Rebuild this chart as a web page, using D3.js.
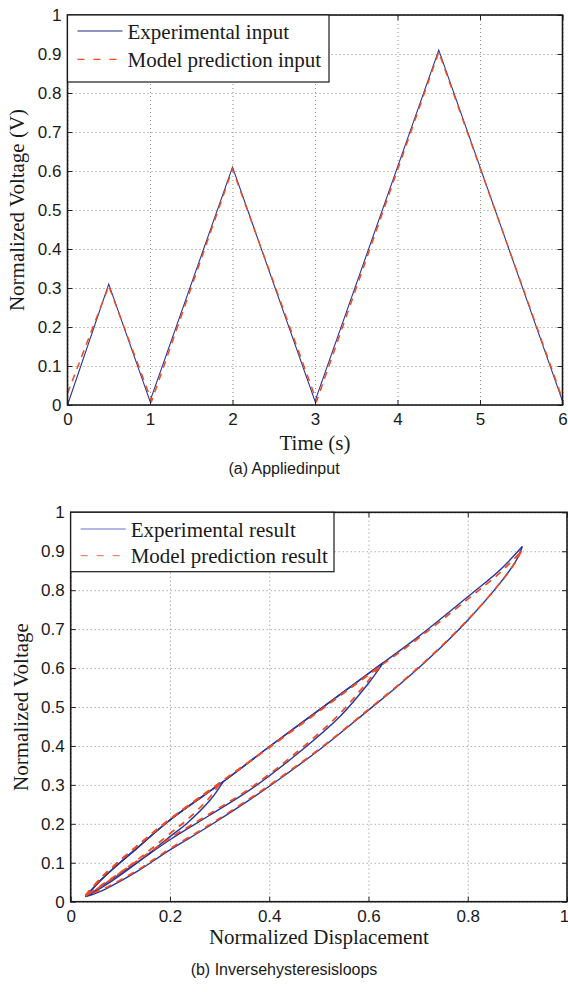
<!DOCTYPE html>
<html lang="en">
  <head>
    <meta charset="utf-8">
    <title>Applied input and inverse hysteresis loops</title>
    <script type="text/javascript" src="https://cdn.jsdelivr.net/npm/d3@7/dist/d3.min.js"></script>
    <style>
      body { margin: 0; background: #fff; }
      svg { display: block; }
      .tick text { font-family: "Liberation Sans", Arial, sans-serif; font-size: 17px; fill: #1a1a1a; }
      .grid line { stroke: #8c8c8c; stroke-width: 1; stroke-dasharray: 1,3; }
      .grid path { display: none; }
      .frame-ticks line { stroke: #222; stroke-width: 1; }
      .frame-ticks path { display: none; }
      .axis-label { font-family: "Liberation Serif", "Times New Roman", serif; font-size: 21px; fill: #1a1a1a; }
      .legend text { font-family: "Liberation Serif", "Times New Roman", serif; font-size: 21px; fill: #1a1a1a; }
      .caption { font-family: "Liberation Sans", Arial, sans-serif; font-size: 16px; fill: #1a1a1a; }
    </style>
  </head>
  <body>
    <script type="text/javascript">

    var w = 568;
    var h = 992;
    var blue = "#27359e";
    var red = "#f24b1f";

    // (a) applied input: triangular voltage, time in s
    var timeTicks = [0, 1, 2, 3, 4, 5, 6];
    var voltTicks = [0, 0.1, 0.2, 0.3, 0.4, 0.5, 0.6, 0.7, 0.8, 0.9, 1];
    var voltTickLabels = ["0", "0.1", "0.2", "0.3", "0.4", "0.5", "0.6", "0.7", "0.8", "0.9", "1"];
    var inputTime = [0, 0.5, 1, 2, 3, 4.5, 6];
    var inputExp = [0, 0.31, 0.01, 0.61, 0.01, 0.91, 0.01];
    var inputModelTime = [0, 0.5, 1.02, 2, 3.02, 4.5, 6];
    var inputModel = [0.03, 0.305, 0.01, 0.605, 0.01, 0.905, 0.015];

    // (b) inverse hysteresis loops: [displacement, voltage]
    var dispTicks = [0, 0.2, 0.4, 0.6, 0.8, 1];
    var dispTickLabels = ["0", "0.2", "0.4", "0.6", "0.8", "1"];
    var expRise = [[0.03, 0.013], [0.066, 0.062], [0.133, 0.137], [0.2, 0.21], [0.307, 0.308], [0.4, 0.398],
                   [0.5, 0.492], [0.6, 0.586], [0.7, 0.68], [0.8, 0.783], [0.865, 0.852], [0.91, 0.912]];
    var expPeaks = [[0.307, 0.308], [0.63, 0.614], [0.91, 0.912]];
    var expFall1 = [[0.307, 0.308], [0.281, 0.261], [0.234, 0.201], [0.2, 0.167], [0.133, 0.099],
                    [0.066, 0.039], [0.03, 0.013]];
    var expFall2 = [[0.63, 0.614], [0.6, 0.561], [0.542, 0.475], [0.45, 0.373], [0.361, 0.287], [0.28, 0.222],
                    [0.2, 0.159], [0.133, 0.1], [0.066, 0.043], [0.03, 0.013]];
    var expFall3 = [[0.91, 0.912], [0.898, 0.877], [0.865, 0.818], [0.8, 0.723], [0.73, 0.634], [0.664, 0.559],
                    [0.6, 0.492], [0.509, 0.398], [0.418, 0.3125], [0.361, 0.262], [0.28, 0.195], [0.2, 0.133],
                    [0.133, 0.077], [0.066, 0.03], [0.03, 0.013]];
    var modelRise = [[0.03, 0.016], [0.066, 0.067], [0.133, 0.142], [0.2, 0.212], [0.3, 0.305], [0.4, 0.396],
                     [0.5, 0.489], [0.6, 0.583], [0.7, 0.676], [0.8, 0.777], [0.865, 0.845], [0.908, 0.9]];
    var modelPeaks = [[0.3, 0.302], [0.622, 0.603], [0.908, 0.9]];
    var modelFall1 = [[0.3, 0.302], [0.278, 0.265], [0.234, 0.21], [0.2, 0.175], [0.133, 0.106],
                      [0.066, 0.044], [0.03, 0.015]];
    var modelFall2 = [[0.622, 0.603], [0.598, 0.565], [0.54, 0.48], [0.45, 0.378], [0.361, 0.291], [0.28, 0.226],
                      [0.2, 0.163], [0.133, 0.104], [0.066, 0.046], [0.03, 0.015]];
    var modelFall3 = [[0.908, 0.9], [0.895, 0.87], [0.863, 0.815], [0.8, 0.724], [0.73, 0.636], [0.664, 0.561],
                      [0.6, 0.494], [0.509, 0.4], [0.418, 0.315], [0.361, 0.265], [0.28, 0.198], [0.2, 0.136],
                      [0.133, 0.08], [0.066, 0.033], [0.03, 0.015]];

    var svg = d3.select("body")
                .append("svg")
                .attr("width", w)
                .attr("height", h);

    // draws grid, inward ticks on all four sides and tick labels for one panel
    function panel(box, xScale, yScale, xTicks, xLabels, yTicks, yLabels) {
      var g = svg.append("g");
      var pw = box.r - box.l, ph = box.b - box.t;

      g.append("g").attr("class", "grid")
       .attr("transform", "translate(0," + box.b + ")")
       .call(d3.axisBottom(xScale).tickValues(xTicks).tickSize(-ph).tickFormat(""));
      g.append("g").attr("class", "grid")
       .attr("transform", "translate(" + box.l + ",0)")
       .call(d3.axisLeft(yScale).tickValues(yTicks).tickSize(-pw).tickFormat(""));

      var xAxis = g.append("g").attr("class", "frame-ticks")
       .attr("transform", "translate(0," + box.b + ")")
       .call(d3.axisBottom(xScale).tickValues(xTicks).tickSizeInner(-5).tickSizeOuter(0).tickPadding(8)
               .tickFormat(function(d, i) { return xLabels[i]; }));
      // last label sits on the window edge, nudge it in a little
      xAxis.selectAll(".tick text").filter(function(d, i) { return i === xTicks.length - 1; })
           .attr("dx", box.r > 565 ? -3 : 0);
      g.append("g").attr("class", "frame-ticks")
       .attr("transform", "translate(0," + box.t + ")")
       .call(d3.axisTop(xScale).tickValues(xTicks).tickSizeInner(-5).tickSizeOuter(0).tickFormat(""));
      g.append("g").attr("class", "frame-ticks")
       .attr("transform", "translate(" + box.l + ",0)")
       .call(d3.axisLeft(yScale).tickValues(yTicks).tickSizeInner(-5).tickSizeOuter(0).tickPadding(6)
               .tickFormat(function(d, i) { return yLabels[i]; }));
      g.append("g").attr("class", "frame-ticks")
       .attr("transform", "translate(" + box.r + ",0)")
       .call(d3.axisRight(yScale).tickValues(yTicks).tickSizeInner(-5).tickSizeOuter(0).tickFormat(""));
      return g;
    }

    function frame(box) {
      svg.append("rect")
         .attr("x", box.l).attr("y", box.t)
         .attr("width", box.r - box.l).attr("height", box.b - box.t)
         .attr("fill", "none").attr("stroke", "#1a1a1a").attr("stroke-width", 1.6);
    }

    function legend(box, x, y, labels) {
      var lg = svg.append("g").attr("class", "legend");
      lg.append("rect")
        .attr("x", x).attr("y", y).attr("width", box.w).attr("height", box.h)
        .attr("fill", "#fff").attr("stroke", "#1a1a1a").attr("stroke-width", 1.2);
      labels.forEach(function(lab, i) {
        var ly = y + box.rows[i];
        lg.append("line")
          .attr("x1", x + 10).attr("x2", x + 55).attr("y1", ly).attr("y2", ly)
          .attr("stroke", i === 0 ? box.c1 : box.c2)
          .attr("stroke-width", i === 0 ? 1 : 1.3)
          .attr("stroke-dasharray", i === 0 ? null : "7,9");
        lg.append("text").attr("x", x + 60).attr("y", ly + 7.5).text(lab);
      });
    }

    // ---------- (a) Applied input ----------
    var boxA = {l: 67.5, r: 562.5, t: 15, b: 405};
    var xA = d3.scaleLinear().domain([0, 6]).range([boxA.l, boxA.r]);
    var yA = d3.scaleLinear().domain([0, 1]).range([boxA.b, boxA.t]);
    panel(boxA, xA, yA, timeTicks, timeTicks.map(String), voltTicks, voltTickLabels);

    var lineA = d3.line()
                  .x(function(d) { return xA(d[0]); })
                  .y(function(d) { return yA(d[1]); });

    svg.append("path")
       .attr("d", lineA(inputTime.map(function(t, i) { return [t, inputExp[i]]; })))
       .attr("fill", "none").attr("stroke", blue).attr("stroke-width", 1.1);
    svg.append("path")
       .attr("d", lineA(inputModelTime.map(function(t, i) { return [t, inputModel[i]]; })))
       .attr("fill", "none").attr("stroke", red).attr("stroke-width", 1.5)
       .attr("stroke-dasharray", "7,6");
    frame(boxA);

    legend({w: 261.5, h: 67, rows: [16, 44.3], c1: "#1f2a86", c2: red}, boxA.l, boxA.t,
           ["Experimental input", "Model prediction input"]);

    svg.append("text").attr("class", "axis-label")
       .attr("x", (boxA.l + boxA.r) / 2).attr("y", 450)
       .attr("text-anchor", "middle").text("Time (s)");
    svg.append("text").attr("class", "axis-label")
       .attr("transform", "translate(24," + ((boxA.t + boxA.b) / 2) + ") rotate(-90)")
       .attr("text-anchor", "middle").text("Normalized Voltage (V)");
    svg.append("text").attr("class", "caption")
       .attr("x", 284).attr("y", 474)
       .attr("text-anchor", "middle").text("(a) Appliedinput");

    // ---------- (b) Inverse hysteresis loops ----------
    var boxB = {l: 70.7, r: 567, t: 512.3, b: 901.7};
    var xB = d3.scaleLinear().domain([0, 1]).range([boxB.l, boxB.r]);
    var yB = d3.scaleLinear().domain([0, 1]).range([boxB.b, boxB.t]);
    panel(boxB, xB, yB, dispTicks, dispTickLabels, voltTicks, voltTickLabels);

    var lineB = d3.line()
                  .x(function(d) { return xB(d[0]); })
                  .y(function(d) { return yB(d[1]); })
                  .curve(d3.curveCatmullRom.alpha(0.5));

    // each loop: rise along the common branch up to its peak, then fall back
    function loopSegments(rise, peaks, falls) {
      var segs = [];
      peaks.forEach(function(p, i) {
        var up = rise.filter(function(d) { return d[0] < p[0] - 0.01; });
        up.push(p);
        segs.push(up);
        segs.push(falls[i]);
      });
      return segs;
    }

    var expSegs = loopSegments(expRise, expPeaks, [expFall1, expFall2, expFall3]);
    var modelSegs = loopSegments(modelRise, modelPeaks, [modelFall1, modelFall2, modelFall3]);

    svg.append("g").selectAll("path")
       .data(expSegs).enter().append("path")
       .attr("d", lineB)
       .attr("fill", "none").attr("stroke", blue).attr("stroke-width", 1.4);
    svg.append("g").selectAll("path")
       .data(modelSegs).enter().append("path")
       .attr("d", lineB)
       .attr("fill", "none").attr("stroke", red).attr("stroke-width", 1.7)
       .attr("stroke-dasharray", "7,6");
    frame(boxB);

    legend({w: 263.3, h: 59.4, rows: [16.7, 43.4], c1: "#6472cc", c2: "#f3865f"}, boxB.l, boxB.t,
           ["Experimental result", "Model prediction result"]);

    svg.append("text").attr("class", "axis-label")
       .attr("x", (boxB.l + boxB.r) / 2).attr("y", 944)
       .attr("text-anchor", "middle").text("Normalized Displacement");
    svg.append("text").attr("class", "axis-label")
       .attr("transform", "translate(28," + ((boxB.t + boxB.b) / 2) + ") rotate(-90)")
       .attr("text-anchor", "middle").text("Normalized Voltage");
    svg.append("text").attr("class", "caption")
       .attr("x", 284).attr("y", 975)
       .attr("text-anchor", "middle").text("(b) Inversehysteresisloops");

    </script>
  </body>
</html>
